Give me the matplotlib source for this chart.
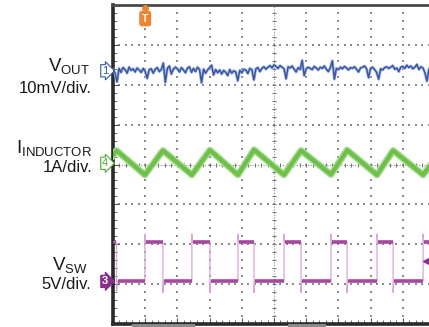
import numpy as np
import matplotlib
matplotlib.use("Agg")
import matplotlib.pyplot as plt
from matplotlib.patches import Rectangle

plt.rcParams['font.family'] = ['Liberation Sans', 'DejaVu Sans']
plt.rcParams['mathtext.fontset'] = 'custom'
plt.rcParams['mathtext.rm'] = 'Liberation Sans'

# ---------------- data (time in divisions) ----------------
# VOUT ripple, mV, sampled every 1/16 division
vout_step = 0.0625
vout_mv = [0.2, -0.5, -2.8, 0.6, -0.4, 0.8, 0.3, -0.6, 0.9, 0.1, 0.5, -0.3, 0.7, 0.2, -0.4, 0.6,
           -0.2, -1.9, 0.3, 0.5, -0.6, 0.4, 0.8, -0.2, 0.3, 1.9, -2.9, 0.6, 1.2, -0.8, 0.4, 0.9,
           0.5, -0.3, 0.8, 0.2, -0.5, 0.7, 1.0, -0.4, 0.6, -0.2, 0.9, 0.3, -3.0, 0.4, -0.6, 0.2,
           0.8, 1.4, -1.0, 0.3, -0.5, 0.2, -0.8, 0.1, -0.4, -1.2, 0.3, -0.6, 0.0, -0.3, -2.5, 0.1,
           -0.5, 0.4, 0.2, -0.7, 0.6, 0.3, -2.3, 0.5, 0.8, -0.2, 0.6, 1.0, 0.4, 0.9, 1.3, 0.7,
           1.5, 1.1, 0.6, 1.3, 0.9, 0.5, -2.0, 1.0, 0.7, 1.2, 0.4, -0.3, 0.8, 0.3, 2.6, -1.2,
           0.5, 0.9, 0.6, 0.3, 1.1, 0.7, 0.2, 0.9, 0.6, 1.2, 0.4, -0.2, 0.8, 2.5, -2.1, 0.6,
           0.3, 0.9, 0.5, 1.1, 0.7, 0.2, 0.8, 0.6, 1.0, 0.4, -0.3, 0.7, 0.9, 1.2, 0.5, -1.7,
           0.6, 0.9, 0.3, -0.4, -2.1, 0.5, 0.2, 0.8, 1.0, 0.6, 0.9, 1.3, 0.4, 0.7, -0.2, 0.9,
           1.1, 0.6, 1.4, 0.8, 1.2, 0.5, 0.9, 1.6, 0.3, 1.0, 0.7, -0.5, -2.6, 0.4, 1.2, 0.8, 0.5]

# Inductor current vertices (A, relative to channel marker)
il_t = [0.0, 0.11, 0.99, 1.55, 2.45, 3.01, 3.88, 4.38, 5.31, 5.84, 6.77, 7.27, 8.20, 8.70, 9.63, 10.0]
il_a = [0.20, 0.32, -0.29, 0.32, -0.29, 0.33, -0.29, 0.34, -0.29, 0.32, -0.28, 0.33, -0.29, 0.32, -0.29, 0.10]

# Switch node edges (divisions) and levels (V)
sw_rise = [0.99, 2.45, 3.88, 5.31, 6.77, 8.20, 9.63]
sw_fall = [0.11, 1.55, 3.01, 4.38, 5.84, 7.27, 8.70]
sw_high = 4.9
sw_low = 0.0
sw_overshoot = 5.9
sw_undershoot = -1.4

# Scales and channel offsets (divisions)
vout_scale = 10.0   # mV/div
il_scale = 1.0      # A/div
sw_scale = 5.0      # V/div
ch1_off = 2.35
ch4_off = 0.03
ch3_off = -2.93

W, H = 429, 327
fig = plt.figure(figsize=(W / 100, H / 100), dpi=100)
fig.patch.set_facecolor('white')
ax_l, ax_r, ax_t, ax_b = 113, 435, 5, 324
ax = fig.add_axes([ax_l / W, 1 - ax_b / H, (ax_r - ax_l) / W, (ax_b - ax_t) / H])
ax.set_xlim(0, 10)
ax.set_ylim(-4, 4)
ax.set_facecolor('white')

# position indicator bars below the bottom frame
for x0, x1 in [(132, 195), (288, 326)]:
    fig.patches.append(Rectangle((x0 / W, 0), (x1 - x0) / W, 3.5 / H, transform=fig.transFigure,
                                 fc='#8a8a8a', ec='none', zorder=0))

# ---------------- graticule ----------------
grid_col = '#8c8c8c'
sub = np.arange(0, 10.001, 0.2)
subv = np.arange(-4, 4.001, 0.2)
for gx in range(1, 10):
    if gx == 5:
        continue
    ax.scatter(np.full(subv.size, gx), subv, s=0.9, c=grid_col, marker='s', lw=0, zorder=1)
for gy in range(-3, 4):
    if gy == 0:
        continue
    ax.scatter(sub, np.full(sub.size, gy), s=0.9, c=grid_col, marker='s', lw=0, zorder=1)
# center lines with tick marks
ax.plot([5, 5], [-4, 4], color=grid_col, lw=0.8, ls=(0, (1, 1.5)), zorder=1)
ax.plot([0, 10], [0, 0], color=grid_col, lw=0.8, ls=(0, (1, 1.5)), zorder=1)
ax.scatter(np.full(subv.size, 5), subv, s=10, c='#777777', marker='_', lw=0.8, zorder=1)
ax.scatter(sub, np.zeros(sub.size), s=10, c='#777777', marker='|', lw=0.8, zorder=1)

# ---------------- traces ----------------
# VOUT
vt = np.arange(len(vout_mv)) * vout_step
vy = ch1_off + np.array(vout_mv) / vout_scale
ax.plot(vt, vy, color='#b3c0e4', lw=2.2, zorder=3)
ax.plot(vt, vy, color='#3656a8', lw=1.1, zorder=4)

# Inductor current
iy = ch4_off + np.array(il_a) / il_scale
ax.plot(il_t, iy, color='#a9dc92', lw=5.0, zorder=3)
ax.plot(il_t, iy, color='#6cc247', lw=3.0, zorder=4)

# Switch node
edges = sorted([(t, 'r') for t in sw_rise] + [(t, 'f') for t in sw_fall])
xs, ys = [0.0], [sw_high]
level = sw_high
for t, kind in edges:
    if kind == 'f':
        xs += [t, t, t + 0.02, t + 0.05]
        ys += [sw_high, sw_undershoot, sw_low, sw_low]
        level = sw_low
    else:
        xs += [t, t, t + 0.02, t + 0.05]
        ys += [sw_low, sw_overshoot, sw_high, sw_high]
        level = sw_high
xs.append(10.0)
ys.append(level)
sy = ch3_off + np.array(ys) / sw_scale
ax.plot(xs, sy, color='#d8a6d6', lw=0.9, zorder=3)
# thick flat levels
bounds = [0.0] + [t for t, _ in edges] + [10.0]
lvl = sw_high
for a, b in zip(bounds[:-1], bounds[1:]):
    ax.plot([a + 0.04, b - 0.01], [ch3_off + lvl / sw_scale] * 2, color='#a7479f', lw=2.6,
            zorder=4, solid_capstyle='butt')
    lvl = sw_low if lvl == sw_high else sw_high

# ---------------- frame ----------------
for side in ['left', 'bottom', 'top']:
    ax.spines[side].set_color('#2a2a2a')
    ax.spines[side].set_linewidth(2.6)
ax.spines['top'].set_color('#4a4a4a')
ax.spines['top'].set_linewidth(2.0)
ax.spines['right'].set_visible(False)
ax.set_xticks(range(0, 11))
ax.set_yticks(range(-4, 5))
ax.set_xticks(sub, minor=True)
ax.set_yticks(subv, minor=True)
ax.tick_params(which='both', direction='in', labelbottom=False, labelleft=False,
               color='#555555', top=False, right=False)
ax.tick_params(which='major', length=4, width=0.8)
ax.tick_params(which='minor', length=3, width=0.6)

# trigger position marker
ax.plot([1.0], [3.93], marker='o', ms=4, color='#f0842c', clip_on=False, zorder=6)
ax.text(1.0, 3.66, 'T', ha='center', va='center', fontsize=7.5, color='white', fontweight='bold',
        bbox=dict(boxstyle='round,pad=0.2', fc='#f0842c', ec='#f0842c'), zorder=6, clip_on=False)
# trigger level arrow (right)
ax.plot([9.72], [(164 - 261) / 39.9], marker='<', ms=5, color='#8b2d8f', zorder=6)

# channel markers
ax.text(-0.25, ch1_off, '1', ha='center', va='center', fontsize=8, color='#3656a8',
        bbox=dict(boxstyle='rarrow,pad=0.1', fc='white', ec='#3656a8', lw=0.8), clip_on=False)
ax.text(-0.25, ch4_off, '4', ha='center', va='center', fontsize=8, color='#4caa30',
        bbox=dict(boxstyle='rarrow,pad=0.1', fc='white', ec='#4caa30', lw=0.8), clip_on=False)
ax.text(-0.25, ch3_off, '3', ha='center', va='center', fontsize=8, color='white', fontweight='bold',
        bbox=dict(boxstyle='rarrow,pad=0.1', fc='#8b2d8f', ec='#8b2d8f', lw=0.8), clip_on=False)

# ---------------- labels ----------------
def ftext(px, py, s, size):
    fig.text(px / W, 1 - py / H, s, ha='right', va='baseline', fontsize=size, color='#1a1a1a')

ftext(90, 71, r'$\mathregular{V_{OUT}}$', 13.5)
ftext(92, 93, '10mV/div.', 12)
ftext(92, 153, r'$\mathregular{I_{INDUCTOR}}$', 13.5)
ftext(92, 172, '1A/div.', 12)
ftext(88, 270, r'$\mathregular{V_{SW}}$', 13.5)
ftext(91, 289, '5V/div.', 12)

fig.savefig('out.png', dpi=100, facecolor='white')
